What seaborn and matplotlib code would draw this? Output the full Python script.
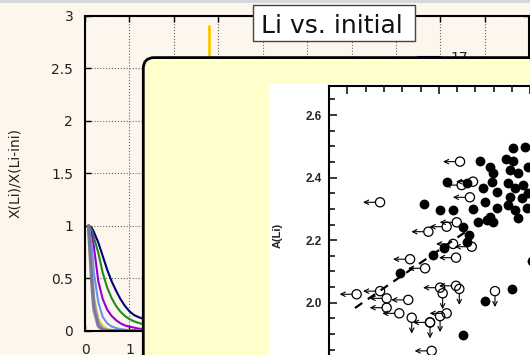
import numpy as np
import pandas as pd
import matplotlib
matplotlib.use("Agg")
import matplotlib.pyplot as plt
import seaborn as sns
from matplotlib.patches import FancyBboxPatch, Rectangle
from matplotlib.ticker import MultipleLocator, FixedLocator, FixedFormatter
from matplotlib.lines import Line2D

# ---------------- outer chart data ----------------
curve_x = [0.08, 0.15, 0.2, 0.3, 0.4, 0.5, 0.6, 0.7, 0.8, 0.9, 1.0, 1.1, 1.2, 1.4, 1.7, 2.0, 3.0]
curve_navy = [1.0, 0.98, 0.94, 0.84, 0.71, 0.58, 0.47, 0.38, 0.30, 0.235, 0.185, 0.15, 0.13, 0.10, 0.07, 0.05, 0.02]
curve_green = [1.0, 0.96, 0.89, 0.74, 0.55, 0.41, 0.31, 0.235, 0.18, 0.14, 0.11, 0.09, 0.075, 0.05, 0.03, 0.02, 0.01]
curve_purple = [1.0, 0.92, 0.80, 0.47, 0.30, 0.20, 0.14, 0.10, 0.07, 0.05, 0.038, 0.03, 0.02, 0.012, 0.006, 0.003, 0.0]
curve_lblue = [1.0, 0.82, 0.55, 0.27, 0.13, 0.07, 0.04, 0.025, 0.015, 0.01, 0.005, 0.003, 0.002, 0.0, 0.0, 0.0, 0.0]
curve_gold = [1.0, 0.62, 0.33, 0.12, 0.05, 0.02, 0.01, 0.004, 0.0, 0.0, 0.0, 0.0, 0.0, 0.0, 0.0, 0.0, 0.0]
curve_gray1 = [1.0, 0.58, 0.28, 0.08, 0.02, 0.005, 0.0, 0.0, 0.0, 0.0, 0.0, 0.0, 0.0, 0.0, 0.0, 0.0, 0.0]
curve_gray2 = [1.0, 0.52, 0.24, 0.06, 0.015, 0.003, 0.0, 0.0, 0.0, 0.0, 0.0, 0.0, 0.0, 0.0, 0.0, 0.0, 0.0]
curve_gray3 = [1.0, 0.47, 0.20, 0.04, 0.01, 0.0, 0.0, 0.0, 0.0, 0.0, 0.0, 0.0, 0.0, 0.0, 0.0, 0.0, 0.0]
legend_label = "17"
gold_marker_x = 2.78
gold_marker_top = 2.91
outer_xticks = list(range(0, 11))
outer_xtick_labels = ["0", "1", "2", "3", "4", "5", "6", "7", "8", "9", ""]
outer_yticks = [0, 0.5, 1, 1.5, 2, 2.5, 3]
outer_ytick_labels = ["0", "0.5", "1", "1.5", "2", "2.5", "3"]
title_text = "Li vs. initial"
outer_ylabel = "X(Li)/X(Li-ini)"

# ---------------- inset scatter data (A(Li)) ----------------
det_x = [2.88, 4.21, 4.70, 5.07, 5.28, 5.43, 5.78, 6.34, 6.52, 6.52, 6.67, 6.87, 7.14, 7.25, 7.42,
         7.52, 7.62, 7.80, 7.89, 7.96, 7.96, 8.16, 8.16, 8.67, 8.78, 8.89, 8.89, 9.05, 9.05, 9.16,
         9.16, 9.33, 9.33, 9.53, 9.60, 9.71, 9.87, 9.87, 9.80, 10.09, 6.34, 7.52, 8.98, 7.80, 8.80]
det_y = [2.094, 2.316, 2.152, 2.296, 2.174, 2.387, 2.296, 2.243, 2.382, 2.195, 2.216, 2.300, 2.258, 2.454, 2.366,
         2.323, 2.264, 2.433, 2.387, 2.414, 2.258, 2.355, 2.302, 2.458, 2.383, 2.424, 2.339, 2.494, 2.454, 2.367,
         2.296, 2.415, 2.270, 2.334, 2.376, 2.499, 2.435, 2.351, 2.303, 2.133, 1.897, 2.005, 2.044, 2.275, 2.312]

lim_left_x = [1.79, 6.16, 6.87, 6.25, 6.70, 4.43, 5.43, 5.98, 6.80, 5.78, 5.94, 3.43, 4.25, 0.51, 1.79,
              2.15, 3.33, 2.15, 2.84, 5.07, 5.94, 5.43, 4.61, 4.52]
lim_left_y = [2.321, 2.451, 2.387, 2.376, 2.337, 2.227, 2.243, 2.257, 2.179, 2.188, 2.144, 2.139, 2.110, 2.027, 2.037,
              2.014, 2.009, 1.984, 1.966, 2.048, 2.054, 1.966, 1.846, 1.937]

lim_down_x = [3.52, 4.52, 5.21, 6.12, 5.07, 8.07]
lim_down_y = [1.952, 1.937, 2.030, 2.044, 1.957, 2.037]

trend_x = [0.42, 6.60]
trend_y = [1.983, 2.232]
inset_yticks = [2.0, 2.2, 2.4, 2.6]
inset_ytick_labels = ["2.0", "2.2", "2.4", "2.6"]
inset_ylabel = "A(Li)"

# ---------------- styling ----------------
BG = "#fdf6ec"
sns.set_theme(style="ticks")
plt.rcParams["font.family"] = ["DejaVu Sans"]

W, H = 530, 355
fig = plt.figure(figsize=(W / 100, H / 100), dpi=100, facecolor=BG)

# top grey strip
fig.patches.append(Rectangle((0, (H - 3) / 100), W / 100, 0.03, transform=fig.dpi_scale_trans,
                             facecolor="#d6d6de", edgecolor="none", zorder=0.5))

# ---------------- outer axes ----------------
ax = fig.add_axes([85 / W, (H - 330.7) / H, (529.3 - 85) / W, (330.7 - 15.7) / H])
ax.set_facecolor(BG)
ax.patch.set_facecolor(BG)

series = [
    (curve_navy, "#000080", 1.5, 1.0),
    (curve_green, "#1f8a1f", 1.5, 1.0),
    (curve_purple, "#9400d3", 1.5, 1.0),
    (curve_lblue, "#6495ed", 1.5, 1.0),
    (curve_gold, "#ffcc00", 1.0, 1.0),
    (curve_gray1, "#a4a4c4", 2.4, 0.7),
    (curve_gray2, "#8a8aa8", 2.4, 0.7),
    (curve_gray3, "#6c6c8a", 2.4, 0.7),
]
for ys, col, lw, al in series:
    sns.lineplot(x=curve_x, y=ys, color=col, lw=lw, alpha=al, ax=ax, legend=False, sort=False)

ax.vlines(gold_marker_x, 0, gold_marker_top, color="#f7c600", lw=2, zorder=3)

ax.set_xlim(0, 10)
ax.set_ylim(0, 3)
ax.xaxis.set_major_locator(FixedLocator(outer_xticks))
ax.xaxis.set_major_formatter(FixedFormatter(outer_xtick_labels))
ax.yaxis.set_major_locator(FixedLocator(outer_yticks))
ax.yaxis.set_major_formatter(FixedFormatter(outer_ytick_labels))
ax.grid(True, ls=":", color="#666666", lw=0.8)
ax.tick_params(direction="in", length=4, width=1, top=True, right=True,
               labelsize=10, pad=8.5, labelcolor="#222222", color="black")
for sp in ax.spines.values():
    sp.set_linewidth(1.5)
    sp.set_color("black")
ax.set_xlabel("")
ax.set_ylabel(outer_ylabel, fontsize=10, color="#222222")
ax.yaxis.set_label_coords(-0.142, 0.5)

leg_handle = Line2D([], [], color="#000080", lw=1.5)
ax.legend([leg_handle], [legend_label], loc="upper left",
          bbox_to_anchor=(418 / W, (H - 50.5) / H), bbox_transform=fig.transFigure,
          frameon=False, fontsize=10, handlelength=1.6, handletextpad=0.7,
          borderpad=0, borderaxespad=0, labelcolor="#222222")

# title box
fig.patches.append(Rectangle((2.53, (H - 41) / 100), 1.62, 0.36, transform=fig.dpi_scale_trans,
                             facecolor="white", edgecolor="#444444", lw=1, zorder=5))
fig.text(2.61, (H - 33.3) / 100, title_text, transform=fig.dpi_scale_trans, fontsize=18,
         ha="left", va="baseline", color="#111111", zorder=6)

# yellow panel
fig.patches.append(FancyBboxPatch((1.433, -1.0), 5.0, (H - 57.6) / 100 + 1.0,
                                  boxstyle="round,pad=0,rounding_size=0.11",
                                  transform=fig.dpi_scale_trans,
                                  facecolor="#ffffcc", edgecolor="black", lw=2.0, zorder=2))
# white image area
fig.patches.append(Rectangle((2.69, -1.0), 4.0, (H - 84) / 100 + 1.0, transform=fig.dpi_scale_trans,
                             facecolor="white", edgecolor="none", zorder=3))

# ---------------- inset axes ----------------
ax_bottom_frac = -0.4
ax_top_px = 86
ax2 = fig.add_axes([329 / W, ax_bottom_frac, 0.68, (H - ax_top_px) / H - ax_bottom_frac])
ax2.set_zorder(4)
ax2.set_facecolor("white")

bottom_px = H - ax_bottom_frac * H
px_per_unit_y = 312.8
y_at_2 = 302.7
ax2.set_ylim(2 - (bottom_px - y_at_2) / px_per_unit_y, 2 + (y_at_2 - ax_top_px) / px_per_unit_y)
ax2.set_xlim(-1, -1 + 0.68 * W / 18.3)

sns.lineplot(x=trend_x, y=trend_y, color="black", lw=1.6, ax=ax2, legend=False)
ax2.lines[-1].set_dashes((4, 3))

sns.scatterplot(x=det_x, y=det_y, color="black", s=50, linewidth=0, marker="o", ax=ax2,
                legend=False, zorder=3)
sns.scatterplot(x=lim_left_x + lim_down_x, y=lim_left_y + lim_down_y, s=44, marker="o",
                facecolor="none", edgecolor="black", linewidth=0.9, ax=ax2, legend=False, zorder=4)

left_len = 0.93
down_len = 0.051
for x, y in zip(lim_left_x, lim_left_y):
    ax2.annotate("", xy=(x - left_len, y), xytext=(x, y),
                 arrowprops=dict(arrowstyle="->", lw=0.8, color="black", shrinkA=3.4, shrinkB=0,
                                 mutation_scale=8), zorder=4)
for x, y in zip(lim_down_x, lim_down_y):
    ax2.annotate("", xy=(x, y - down_len), xytext=(x, y),
                 arrowprops=dict(arrowstyle="->", lw=0.8, color="black", shrinkA=3.4, shrinkB=0,
                                 mutation_scale=8), zorder=4)

ax2.yaxis.set_major_locator(FixedLocator(inset_yticks))
ax2.yaxis.set_major_formatter(FixedFormatter(inset_ytick_labels))
ax2.yaxis.set_minor_locator(MultipleLocator(0.05))
ax2.xaxis.set_major_locator(MultipleLocator(5))
ax2.xaxis.set_minor_locator(MultipleLocator(1))
ax2.tick_params(which="both", direction="in", top=True, right=True, bottom=True,
                labelbottom=False, width=1.1, color="black")
ax2.tick_params(which="major", length=6)
ax2.tick_params(which="minor", length=4.5)
ax2.tick_params(axis="y", labelsize=8.5, pad=5)
for lab in ax2.get_yticklabels():
    lab.set_fontfamily("Liberation Sans")
    lab.set_fontweight("bold")
for sp in ax2.spines.values():
    sp.set_linewidth(1.5)
    sp.set_color("black")
ax2.set_xlabel("")
ax2.set_ylabel(inset_ylabel, fontsize=8, fontweight="bold", family="Liberation Sans")
ax2.yaxis.set_label_coords((283 - 329) / (0.68 * W), (bottom_px - 235) / (bottom_px - ax_top_px))

fig.savefig("out.png", dpi=100, facecolor=BG)
